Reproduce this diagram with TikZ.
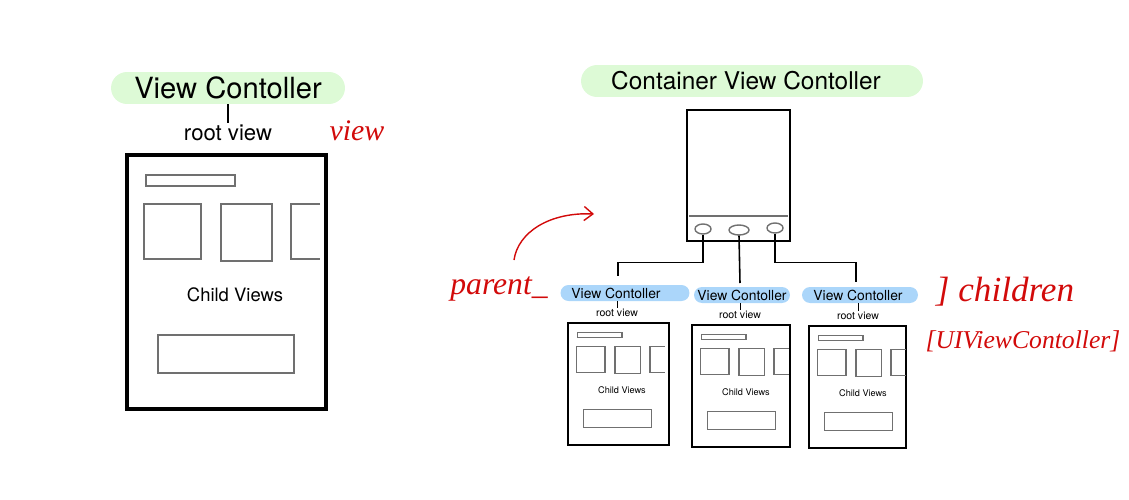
\documentclass[tikz,border=0pt]{standalone}
\usepackage{fontspec}
\setmainfont{TeX Gyre Heros}
\newfontfamily\handfont{Liberation Serif}
\usepackage{tikz}
\usetikzlibrary{shapes.geometric,arrows.meta}

\definecolor{pillgreen}{HTML}{DDFAD6}
\definecolor{pillblue}{HTML}{ABD6FA}
\definecolor{pen}{HTML}{D20A0A}
\definecolor{boxgray}{HTML}{707070}

\tikzset{
  greenpill/.style={fill=pillgreen, rounded corners=0.32cm, minimum height=0.64cm, inner sep=0pt},
  bluepill/.style={fill=pillblue, rounded corners=0.16cm, minimum height=0.32cm, inner sep=0pt, font=\fontsize{7.9}{8}\selectfont},
  subview/.style={draw=boxgray, line width=0.6pt},
  wire/.style={line width=0.9pt},
  handtext/.style={text=pen, font=\handfont\itshape\fontsize{#1}{#1}\selectfont, inner sep=0pt},
  handline/.style={draw=pen, line width=0.8pt},
}

% one screen with its child views, #1 name, #2 shift, #3 xscale, #4 yscale, #5 font size
\newcommand\screenbox[5]{%
  \begin{scope}[shift={#2}, xscale=#3, yscale=#4]
    \draw[subview] (19,20) rectangle (108,31);
    \draw[subview] (17,49) rectangle (74,104);
    \draw[subview] (94,49) rectangle (145,106);
    \draw[subview] (193,49) -- (164,49) -- (164,104) -- (193,104);
    \node[font=\fontsize{#5}{#5}\selectfont] (#1cv) at (108,140) {Child Views};
    \draw[subview] (31,180) rectangle (167,218);
  \end{scope}}

\begin{document}
\begin{tikzpicture}[x=0.02cm, y=-0.02cm]
  \useasboundingbox (0,0) rectangle (1129,500);

  % single view controller
  \node[greenpill, minimum width=4.68cm, font=\fontsize{16.6}{17}\selectfont] (vc) at (228,88) {View Contoller};
  \node[font=\fontsize{12.6}{13}\selectfont, inner sep=1pt] (rv) at (228,133) {root view};
  \draw[line width=0.6pt] (vc.south) -- (rv.north);
  \draw[line width=2.2pt] (127,155) rectangle (326,409);
  \screenbox{big}{(127,155)}{1}{1}{10.5}
  \node[handtext=17] (hview) at (357,131) {view};

  % container view controller
  \node[greenpill, minimum width=6.84cm, font=\fontsize{13.9}{14}\selectfont] (cvc) at (752,81) {Container View Contoller\kern0.24cm};
  \draw[line width=1.6pt] (687,110) rectangle (790,241);
  \draw[boxgray, line width=0.9pt] (689,216) -- (788,216);
  \node[ellipse, draw=boxgray, line width=0.8pt, minimum width=0.32cm, minimum height=0.2cm, inner sep=0pt] (e1) at (703,229) {};
  \node[ellipse, draw=boxgray, line width=0.8pt, minimum width=0.4cm, minimum height=0.2cm, inner sep=0pt] (e2) at (739,230) {};
  \node[ellipse, draw=boxgray, line width=0.8pt, minimum width=0.32cm, minimum height=0.2cm, inner sep=0pt] (e3) at (775,228) {};

  % children
  \node[bluepill, minimum width=2.58cm] (vc1) at (625,293) {View Contoller\kern0.36cm};
  \node[bluepill, minimum width=1.92cm] (vc2) at (742,295) {View Contoller};
  \node[bluepill, minimum width=2.32cm] (vc3) at (860,295) {View Contoller\kern0.08cm};
  \coordinate (t1) at (618,276);
  \coordinate (t2) at (740,283);
  \coordinate (t3) at (856,282);
  \draw[wire] (e1.south) -- ++(0,28) -| (t1);
  \draw[wire] (e2.south) -- (t2);
  \draw[wire] (e3.south) -- ++(0,29) -| (t3);

  \node[font=\fontsize{6}{6}\selectfont, inner sep=0.5pt] (rv1) at (617,313) {root view};
  \node[font=\fontsize{6}{6}\selectfont, inner sep=0.5pt] (rv2) at (740,315) {root view};
  \node[font=\fontsize{6}{6}\selectfont, inner sep=0.5pt] (rv3) at (858,316) {root view};
  \draw[line width=0.4pt] (vc1.south -| rv1) -- (rv1.north);
  \draw[line width=0.4pt] (vc2.south -| rv2) -- (rv2.north);
  \draw[line width=0.4pt] (vc3.south -| rv3) -- (rv3.north);

  \draw[line width=1.3pt] (568,323) rectangle (669,445);
  \draw[line width=1.3pt] (692,325) rectangle (790,447);
  \draw[line width=1.3pt] (809,326) rectangle (906,448);
  \screenbox{sa}{(568,323)}{0.5}{0.48}{5.2}
  \screenbox{sb}{(692,325)}{0.5}{0.48}{5.2}
  \screenbox{sc}{(809,326)}{0.5}{0.48}{5.2}

  % notes
  \node[handtext=18] (hparent) at (499,289) {parent\_};
  \coordinate (pa) at (514,260);
  \coordinate (pb) at (594,214);
  \draw[handline, -{Straight Barb[length=5pt, width=8pt]}] (pa) .. controls (518,232) and (550,212) .. (pb);
  \node[handtext=20] (hchildren) at (1005,292) {] children};
  \node[handtext=14.6] (htype) at (1023,341) {[UIViewContoller]};
\end{tikzpicture}
\end{document}
